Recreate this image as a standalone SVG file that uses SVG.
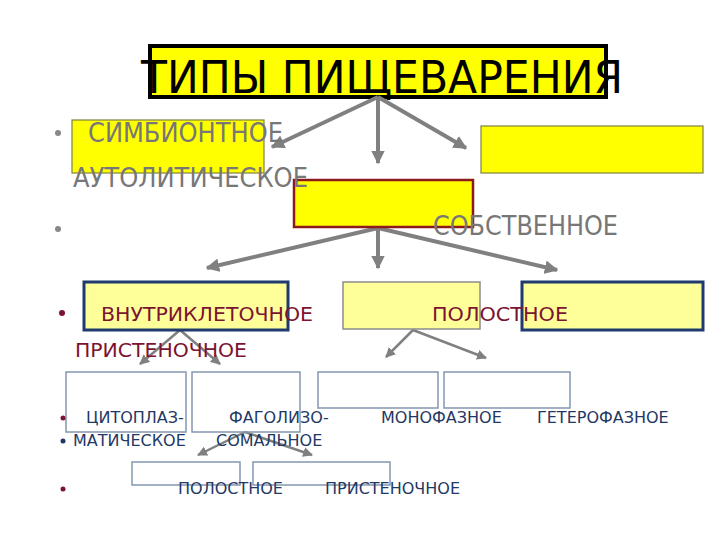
<svg xmlns="http://www.w3.org/2000/svg" width="720" height="540" viewBox="0 0 720 540">
<defs>
<marker id="ah" viewBox="0 0 10 10" refX="9" refY="5" markerWidth="3.4" markerHeight="3.4" orient="auto" markerUnits="strokeWidth"><path d="M0,0 L10,5 L0,10 z" fill="#808080"/></marker>
<marker id="ahs" viewBox="0 0 10 10" refX="9" refY="5" markerWidth="4" markerHeight="4" orient="auto" markerUnits="strokeWidth"><path d="M0,0 L10,5 L0,10 z" fill="#808080"/></marker>
</defs>
<style>
.big{stroke:#808080;stroke-width:4;fill:none;marker-end:url(#ah)}
.sm{stroke:#808080;stroke-width:2.5;fill:none;marker-end:url(#ahs)}
.t1{font-family:"DejaVu Sans",sans-serif;font-size:26px;fill:#777777}
.t2{font-family:"DejaVu Sans",sans-serif;font-size:19px;fill:#7b1430}
.t3{font-family:"DejaVu Sans",sans-serif;font-size:16px;fill:#1f3864}
.yb{fill:#ffff00;stroke:#808040;stroke-width:1.2}
.ly{fill:#ffff99}
.nb{stroke:#1f3a6e;stroke-width:3}
.bx{fill:none;stroke:#8496b0;stroke-width:1.5}
</style>
<rect width="720" height="540" fill="#ffffff"/>
<g id="title">
<rect x="150" y="46" width="456" height="51" fill="#ffff00" stroke="#000" stroke-width="4"/>
<text x="141" y="93" font-family="DejaVu Sans,sans-serif" font-size="44" fill="#000" textLength="482" lengthAdjust="spacingAndGlyphs">ТИПЫ ПИЩЕВАРЕНИЯ</text>
</g>
<g id="connectors">
<line class="big" x1="378" y1="97" x2="272" y2="147"/>
<line class="big" x1="378" y1="97" x2="378" y2="163"/>
<line class="big" x1="378" y1="97" x2="466" y2="148"/>
<line class="big" x1="378" y1="228" x2="207" y2="268"/>
<line class="big" x1="378" y1="228" x2="378" y2="268"/>
<line class="big" x1="378" y1="228" x2="557" y2="270"/>
<line class="sm" x1="180" y1="330" x2="140" y2="364"/>
<line class="sm" x1="180" y1="330" x2="220" y2="364"/>
<line class="sm" x1="413" y1="330" x2="386" y2="357"/>
<line class="sm" x1="413" y1="330" x2="486" y2="358"/>
<line class="sm" x1="245" y1="432" x2="198" y2="455"/>
<line class="sm" x1="245" y1="432" x2="312" y2="455"/>
</g>
<g id="n-symb"><rect class="yb" x="72" y="120" width="192" height="53"/></g>
<g id="n-right"><rect class="yb" x="481" y="126" width="222" height="47"/></g>
<g id="n-own"><rect x="294" y="180" width="179" height="47" fill="#ffff00" stroke="#8b1a1a" stroke-width="2.5"/></g>
<g id="n-intra"><rect class="ly nb" x="84" y="282" width="204" height="48"/></g>
<g id="n-mid"><rect class="ly" x="343" y="282" width="137" height="47" stroke="#8c8c8c" stroke-width="1.5"/></g>
<g id="n-pari"><rect class="ly nb" x="522" y="282" width="181" height="48"/></g>
<g id="n-b1"><rect class="bx" x="66" y="372" width="120" height="60"/></g>
<g id="n-b2"><rect class="bx" x="192" y="372" width="108" height="60"/></g>
<g id="n-b3"><rect class="bx" x="318" y="372" width="120" height="36"/></g>
<g id="n-b4"><rect class="bx" x="444" y="372" width="126" height="36"/></g>
<g id="n-b5"><rect class="bx" x="132" y="462" width="108" height="23"/></g>
<g id="n-b6"><rect class="bx" x="253" y="462" width="137" height="23"/></g>
<g id="texts">
<circle cx="58" cy="133" r="3" fill="#888"/>
<text class="t1" x="88" y="142" textLength="195" lengthAdjust="spacingAndGlyphs">СИМБИОНТНОЕ</text>
<text class="t1" x="73" y="187" textLength="235" lengthAdjust="spacingAndGlyphs">АУТОЛИТИЧЕСКОЕ</text>
<circle cx="58" cy="229" r="3" fill="#888"/>
<text class="t1" x="433" y="235" textLength="185" lengthAdjust="spacingAndGlyphs">СОБСТВЕННОЕ</text>
<circle cx="62" cy="313" r="3" fill="#7b1430"/>
<text class="t2" x="101" y="321" textLength="212" lengthAdjust="spacingAndGlyphs">ВНУТРИКЛЕТОЧНОЕ</text>
<text class="t2" x="432" y="321" textLength="136" lengthAdjust="spacingAndGlyphs">ПОЛОСТНОЕ</text>
<text class="t2" x="75" y="357" textLength="172" lengthAdjust="spacingAndGlyphs">ПРИСТЕНОЧНОЕ</text>
<circle cx="63" cy="418" r="2.5" fill="#7b1430"/>
<text class="t3" x="86" y="423">ЦИТОПЛАЗ-</text>
<text class="t3" x="229" y="423">ФАГОЛИЗО-</text>
<text class="t3" x="381" y="423">МОНОФАЗНОЕ</text>
<text class="t3" x="537" y="423">ГЕТЕРОФАЗНОЕ</text>
<circle cx="63" cy="441" r="2.5" fill="#1f3864"/>
<text class="t3" x="73" y="446">МАТИЧЕСКОЕ</text>
<text class="t3" x="216" y="446">СОМАЛЬНОЕ</text>
<circle cx="63" cy="489" r="2.5" fill="#7b1430"/>
<text class="t3" x="178" y="494">ПОЛОСТНОЕ</text>
<text class="t3" x="325" y="494">ПРИСТЕНОЧНОЕ</text>
</g>
</svg>
